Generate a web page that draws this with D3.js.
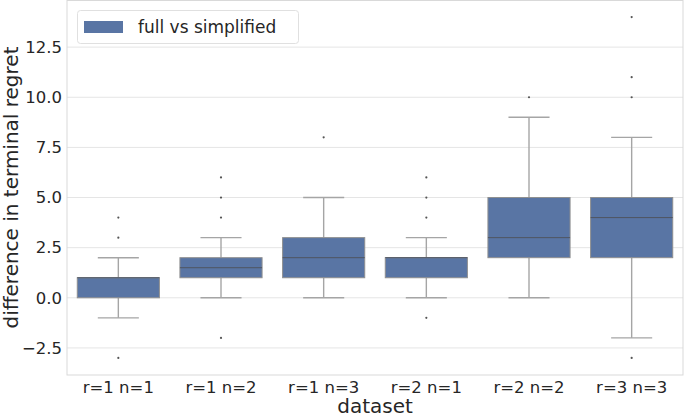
<!DOCTYPE html>
<html><head><meta charset="utf-8">
<script src="https://cdn.jsdelivr.net/npm/d3@7"></script>
<style>body{margin:0;background:#fff}svg{font-family:"DejaVu Sans",sans-serif}</style>
</head><body><svg id="c" width="685" height="417"></svg>
<script>
const categories = ["r=1 n=1","r=1 n=2","r=1 n=3","r=2 n=1","r=2 n=2","r=3 n=3"];
const q1 =      [0, 1, 1, 1, 2, 2];
const medians = [1, 1.5, 2, 2, 3, 4];
const q3 =      [1, 2, 3, 2, 5, 5];
const whiskLo = [-1, 0, 0, 0, 0, -2];
const whiskHi = [2, 3, 5, 3, 9, 8];
const outliers = [[3,4,-3],[4,5,6,-2],[8],[4,5,6,-1],[10],[10,11,14,-3]];
const yTicks = [-2.5, 0, 2.5, 5, 7.5, 10, 12.5];
const seriesName = "full vs simplified";

const svg = d3.select("#c");
const L = 67, R = 683, T = 0, B = 375;
const x = d3.scaleBand().domain(categories).range([L, R]).paddingInner(0).paddingOuter(0);
const y = d3.scaleLinear().domain([-3.85, 14.85]).range([B, T]);
const fill = "#5975a4";

svg.append("g").selectAll("line").data(yTicks).join("line")
  .attr("x1", L).attr("x2", R).attr("y1", d => y(d)).attr("y2", d => y(d))
  .attr("stroke", "#e5e5e5").attr("stroke-width", 1);

svg.append("rect").attr("x", L).attr("y", T + 0.5).attr("width", R - L).attr("height", B - T - 0.5)
  .attr("fill", "none").attr("stroke", "#d9d9d9").attr("stroke-width", 1);

const bw = x.bandwidth() * 0.8;
const g = svg.append("g");
const wc = "#a5a5a5";
categories.forEach((c, i) => {
  const cx = x(c) + x.bandwidth() / 2;
  const cap = bw / 2;
  g.append("line").attr("x1", cx).attr("x2", cx).attr("y1", y(q3[i])).attr("y2", y(whiskHi[i]))
    .attr("stroke", wc).attr("stroke-width", 1.4);
  g.append("line").attr("x1", cx).attr("x2", cx).attr("y1", y(q1[i])).attr("y2", y(whiskLo[i]))
    .attr("stroke", wc).attr("stroke-width", 1.4);
  [whiskHi[i], whiskLo[i]].forEach(v => {
    g.append("line").attr("x1", cx - cap / 2).attr("x2", cx + cap / 2).attr("y1", y(v)).attr("y2", y(v))
      .attr("stroke", wc).attr("stroke-width", 1.4);
  });
  g.append("rect").attr("x", cx - bw / 2).attr("width", bw)
    .attr("y", y(q3[i])).attr("height", y(q1[i]) - y(q3[i]))
    .attr("fill", fill).attr("stroke", "#8f8f8f").attr("stroke-width", 1);
  g.append("line").attr("x1", cx - bw / 2).attr("x2", cx + bw / 2).attr("y1", y(medians[i])).attr("y2", y(medians[i]))
    .attr("stroke", "#4f5561").attr("stroke-width", 1);
  g.selectAll(null).data(outliers[i]).join("circle")
    .attr("cx", cx).attr("cy", d => y(d)).attr("r", 1.1).attr("fill", "#555");
});

svg.append("g").selectAll("text").data(yTicks).join("text")
  .attr("x", L - 5).attr("y", d => y(d)).attr("dy", "0.35em").attr("text-anchor", "end")
  .attr("font-size", 16.5).attr("fill", "#262626").text(d => d < 0 ? "\u2212" + Math.abs(d).toFixed(1) : d.toFixed(1));

svg.append("g").selectAll("text").data(categories).join("text")
  .attr("x", d => x(d) + x.bandwidth() / 2).attr("y", B + 18).attr("text-anchor", "middle")
  .attr("font-size", 16.5).attr("fill", "#262626").text(d => d);

svg.append("text").attr("x", (L + R) / 2).attr("y", 413).attr("text-anchor", "middle")
  .attr("font-size", 20).attr("fill", "#262626").text("dataset");
svg.append("text").attr("transform", `translate(18,${(T + B) / 2}) rotate(-90)`).attr("text-anchor", "middle")
  .attr("font-size", 20).attr("fill", "#262626").text("difference in terminal regret");

const lg = svg.append("g");
lg.append("rect").attr("x", 77.5).attr("y", 10.5).attr("width", 221).attr("height", 33).attr("rx", 3)
  .attr("fill", "#fff").attr("fill-opacity", 0.8).attr("stroke", "#e0e0e0");
lg.append("rect").attr("x", 84).attr("y", 21).attr("width", 39).attr("height", 12).attr("fill", fill);
lg.append("text").attr("x", 138).attr("y", 27).attr("dy", "0.35em").attr("font-size", 17)
  .attr("fill", "#262626").text(seriesName);
</script></body></html>
